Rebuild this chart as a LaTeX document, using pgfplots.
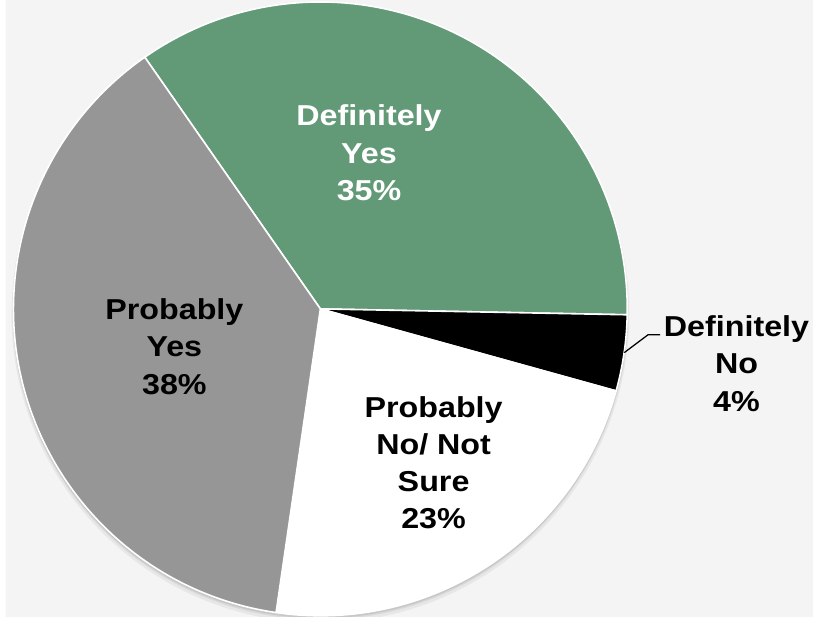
\documentclass[border=0pt]{standalone}
\usepackage{pgfplots}
\pgfplotsset{compat=1.18}
\usepackage{pgfplotstable}
\usepackage{fontspec}
\setmainfont{Liberation Sans}
\newfontfamily\labfont{Liberation Sans}[FakeStretch=1.12]
\definecolor{bg}{HTML}{F4F4F4}
\definecolor{slice0}{HTML}{629A78}
\definecolor{slice1}{HTML}{000000}
\definecolor{slice2}{HTML}{FFFFFF}
\definecolor{slice3}{HTML}{969696}

\pgfplotstableread{
label value
DefinitelyYes 35
DefinitelyNo 4
ProbablyNo 23
ProbablyYes 38
}\piedata

\begin{document}
\pgfmathsetmacro\cur{124.9}
\pgfplotsforeachungrouped \i in {0,...,3}{%
  \pgfplotstablegetelem{\i}{value}\of\piedata
  \pgfmathsetmacro\nxt{\cur-3.6*\pgfplotsretval}%
  \expandafter\xdef\csname sA\i\endcsname{\cur}%
  \expandafter\xdef\csname eA\i\endcsname{\nxt}%
  \global\let\cur\nxt
}
\begin{tikzpicture}
\useasboundingbox (0,0) rectangle (813pt,621pt);
\clip (0,0) rectangle (813pt,621pt);
\begin{axis}[x=1pt, y=1pt, xmin=0, xmax=813, ymin=0, ymax=621,
  hide axis, scale only axis, clip=false, anchor=origin, at={(0,0)},
  disabledatascaling]
\fill[bg] (axis cs:-50,-50) rectangle (axis cs:863,671);
% soft shadow
\fill[black, opacity=0.05] (axis cs:317,305) circle[radius=311pt];
\fill[black, opacity=0.06] (axis cs:317,307) circle[radius=310pt];
\fill[black, opacity=0.08] (axis cs:317,308) circle[radius=309.5pt];
\pgfplotsinvokeforeach{0,...,3}{
  \filldraw[fill=slice#1, draw=white, line width=1.6pt, line join=round]
    (axis cs:317,310) -- ++(\csname sA#1\endcsname:309pt)
    arc[start angle=\csname sA#1\endcsname, end angle=\csname eA#1\endcsname, radius=309pt] -- cycle;
}
\draw[black, line width=1.3pt] (axis cs:623,266) -- (axis cs:647,284) -- (axis cs:659,284);
\tikzset{lab/.style={align=center, font=\labfont\fontsize{29}{37.5}\selectfont\bfseries, inner sep=0pt}}
\node[lab, text=white] at (axis cs:366,467) {Definitely\\Yes\\35\%};
\node[lab] at (axis cs:170,272) {Probably\\Yes\\38\%};
\node[lab] at (axis cs:431,155) {Probably\\No/ Not\\Sure\\23\%};
\node[lab] at (axis cs:736,255) {Definitely\\No\\4\%};
\end{axis}
\end{tikzpicture}
\end{document}
